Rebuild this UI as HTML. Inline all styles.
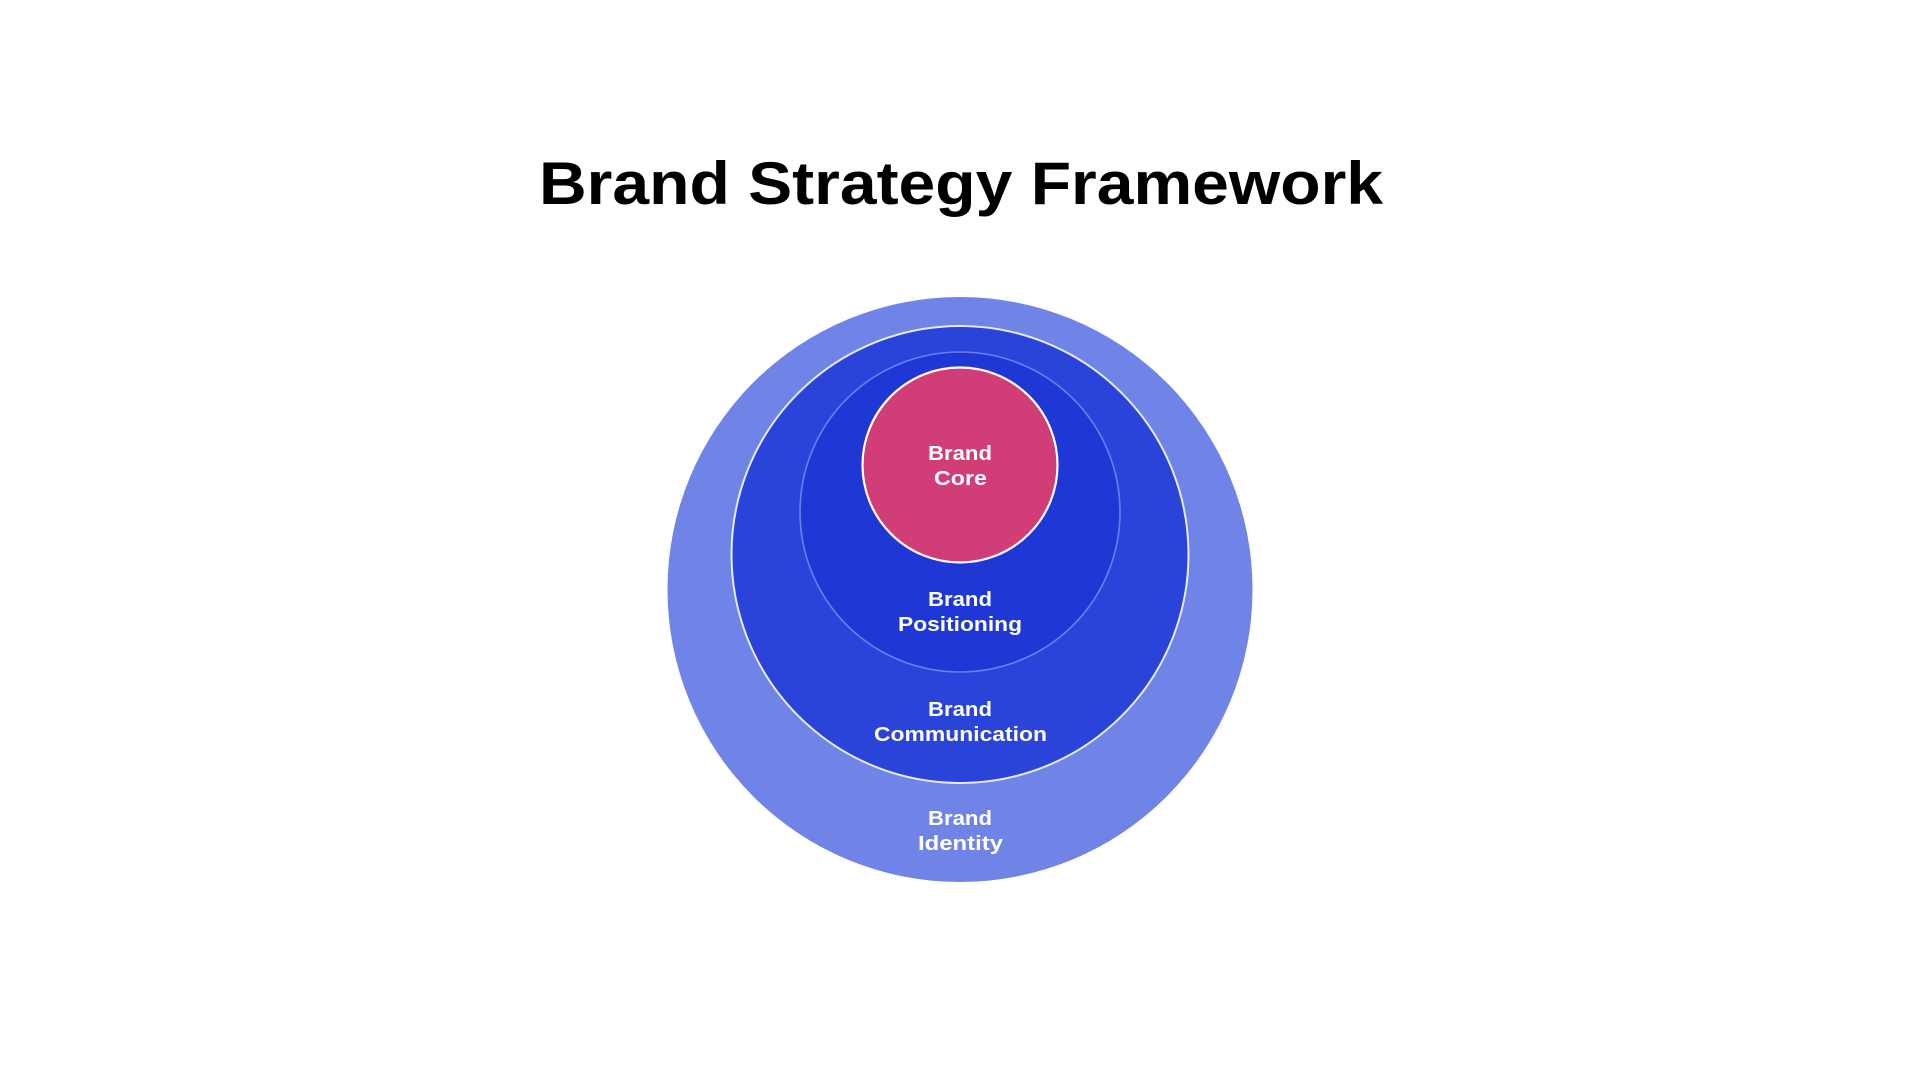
<!DOCTYPE html>
<html>
<head>
<meta charset="utf-8">
<style>
  html, body { margin: 0; padding: 0; background: #ffffff; }
  body { width: 1920px; height: 1080px; overflow: hidden; }
  svg { display: block; }
  text { font-family: "Liberation Sans", "DejaVu Sans", sans-serif; font-weight: bold; }
</style>
</head>
<body>
<svg width="1920" height="1080" viewBox="0 0 1920 1080" xmlns="http://www.w3.org/2000/svg">
  <rect width="1920" height="1080" fill="#ffffff"/>

  <!-- Title -->
  <text x="539" y="204" font-size="60" fill="#000000" textLength="844" lengthAdjust="spacingAndGlyphs">Brand Strategy Framework</text>

  <!-- Outer: Brand Identity -->
  <circle cx="960" cy="589.5" r="292.5" fill="#7083e6"/>

  <!-- Brand Communication -->
  <circle cx="960" cy="554.5" r="228.5" fill="#2a43d8" stroke="#e6eaff" stroke-width="2"/>

  <!-- Brand Positioning -->
  <circle cx="960" cy="512" r="160" fill="#1f38d5" stroke="#6b80ee" stroke-width="1.6"/>

  <!-- Brand Core -->
  <circle cx="960" cy="465" r="97.5" fill="#d03d77" stroke="#ffffff" stroke-width="2.2"/>

  <!-- Labels -->
  <g fill="#ffffff" font-size="20.5">
    <text x="928" y="460" textLength="64" lengthAdjust="spacingAndGlyphs">Brand</text>
    <text x="934" y="485" textLength="53" lengthAdjust="spacingAndGlyphs">Core</text>

    <text x="928" y="606" textLength="64" lengthAdjust="spacingAndGlyphs">Brand</text>
    <text x="898" y="631" textLength="124" lengthAdjust="spacingAndGlyphs">Positioning</text>

    <text x="928" y="716" textLength="64" lengthAdjust="spacingAndGlyphs">Brand</text>
    <text x="874" y="741" textLength="173" lengthAdjust="spacingAndGlyphs">Communication</text>

    <text x="928" y="825" textLength="64" lengthAdjust="spacingAndGlyphs">Brand</text>
    <text x="918" y="850" textLength="85" lengthAdjust="spacingAndGlyphs">Identity</text>
  </g>
</svg>
</body>
</html>
